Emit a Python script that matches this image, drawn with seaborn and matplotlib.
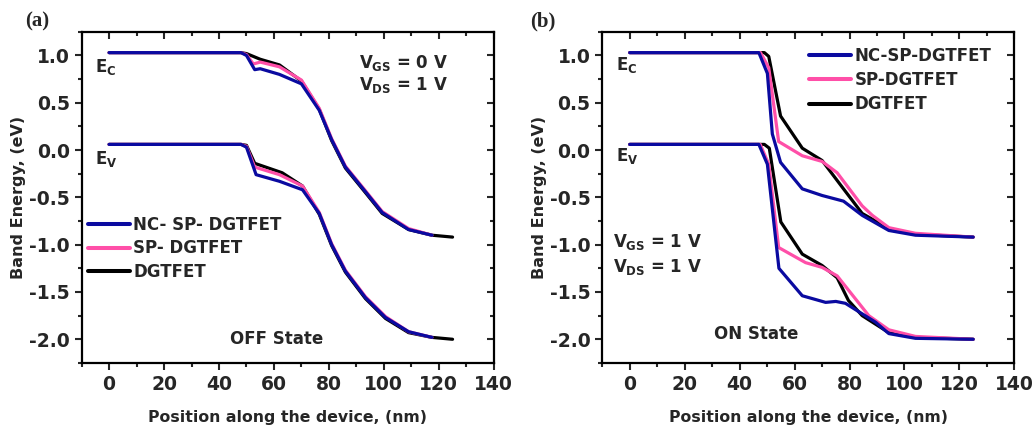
import numpy as np
import pandas as pd
import matplotlib
matplotlib.use("Agg")
import matplotlib.pyplot as plt
import seaborn as sns
from matplotlib.ticker import MultipleLocator, FormatStrFormatter

# ---------------- data ----------------
series_names_a = ["NC- SP- DGTFET", "SP- DGTFET", "DGTFET"]
series_names_b = ["NC-SP-DGTFET", "SP-DGTFET", "DGTFET"]
colors = ["#0a0aa0", "#ff4fa8", "#000000"]

# Panel (a) OFF state
a_nc_x_ec = [0, 48, 50, 53, 55, 62, 70, 76.5, 81, 86, 93.3, 99.4, 109, 117.5]
a_nc_ec = [1.03, 1.03, 1.00, 0.85, 0.86, 0.80, 0.70, 0.42, 0.11, -0.18, -0.44, -0.66, -0.84, -0.90]
a_sp_x_ec = [0, 48, 50, 52.5, 55, 62, 70, 76.5, 81, 86, 93.3, 99.4, 109, 117.5]
a_sp_ec = [1.03, 1.03, 1.01, 0.91, 0.93, 0.88, 0.74, 0.44, 0.12, -0.17, -0.43, -0.65, -0.83, -0.90]
a_dg_x_ec = [0, 48, 50, 55, 62, 70, 76.5, 81, 86, 93.3, 99.4, 109, 117.5, 125]
a_dg_ec = [1.03, 1.03, 1.02, 0.96, 0.90, 0.73, 0.43, 0.10, -0.19, -0.45, -0.67, -0.84, -0.90, -0.92]

a_nc_x_ev = [0, 48, 50, 53.5, 62, 70.4, 76.5, 81, 86, 93.3, 100.6, 109, 117.5]
a_nc_ev = [0.06, 0.06, 0.03, -0.26, -0.33, -0.42, -0.67, -1.00, -1.28, -1.56, -1.77, -1.92, -1.98]
a_sp_x_ev = [0, 48, 50, 53, 62, 70.4, 76.5, 81, 86, 93.3, 100.6, 109, 117.5]
a_sp_ev = [0.06, 0.06, 0.04, -0.18, -0.26, -0.38, -0.66, -0.99, -1.27, -1.55, -1.76, -1.92, -1.98]
a_dg_x_ev = [0, 48, 50, 53, 63, 70.4, 76.5, 81, 86, 93.3, 100.6, 109, 117.5, 125]
a_dg_ev = [0.06, 0.06, 0.05, -0.14, -0.24, -0.38, -0.68, -1.01, -1.29, -1.57, -1.78, -1.93, -1.98, -2.00]

# Panel (b) ON state
b_nc_x_ec = [0, 47, 50.1, 51.9, 54.9, 62.8, 70, 77.8, 84.6, 94.3, 104, 125]
b_nc_ec = [1.03, 1.03, 0.81, 0.17, -0.13, -0.41, -0.48, -0.54, -0.69, -0.85, -0.90, -0.92]
b_sp_x_ec = [0, 47.6, 50.6, 54.2, 62.8, 70, 75.5, 84.6, 88.3, 94.3, 104, 125]
b_sp_ec = [1.03, 1.03, 0.87, 0.09, -0.06, -0.12, -0.24, -0.59, -0.69, -0.82, -0.88, -0.92]
b_dg_x_ec = [0, 49, 50.6, 54.9, 62.8, 70, 77.8, 84.6, 94.3, 104, 125]
b_dg_ec = [1.03, 1.03, 0.99, 0.36, 0.02, -0.11, -0.41, -0.67, -0.83, -0.89, -0.92]

b_nc_x_ev = [0, 47, 50.1, 54.3, 62.8, 71.3, 75, 78.5, 89.5, 94.3, 104, 125]
b_nc_ev = [0.06, 0.06, -0.15, -1.25, -1.54, -1.61, -1.60, -1.62, -1.82, -1.94, -1.99, -2.00]
b_sp_x_ev = [0, 47.5, 50.6, 54.2, 64, 70, 75.5, 87, 94.3, 104, 125]
b_sp_ev = [0.06, 0.06, -0.15, -1.03, -1.19, -1.24, -1.33, -1.75, -1.90, -1.97, -2.00]
b_dg_x_ev = [0, 49, 50.8, 55, 62.8, 70, 75.5, 79.6, 84.6, 94.3, 104, 125]
b_dg_ev = [0.06, 0.06, 0.02, -0.76, -1.10, -1.22, -1.35, -1.59, -1.75, -1.93, -1.98, -2.00]

# ---------------- style ----------------
sns.set_theme(style="ticks")
plt.rcParams["font.family"] = ["DejaVu Sans"]
plt.rcParams["font.weight"] = "bold"
plt.rcParams["axes.labelweight"] = "bold"
plt.rcParams["mathtext.fontset"] = "custom"
plt.rcParams["mathtext.rm"] = "DejaVu Sans:bold"
plt.rcParams["mathtext.it"] = "DejaVu Sans:bold"
plt.rcParams["mathtext.bf"] = "DejaVu Sans:bold"

fig = plt.figure(figsize=(10.33, 4.30), dpi=100)
ax_a = fig.add_axes([0.079, 0.156, 0.399, 0.770])
ax_b = fig.add_axes([0.583, 0.156, 0.399, 0.770])

LW = 2.3


def draw(ax, ec_list, ev_list, names):
    # draw black first, then pink, blue on top
    lines = {}
    for idx in [2, 1, 0]:
        xs, ys = ec_list[idx]
        df = pd.DataFrame({"x": xs, "y": ys})
        sns.lineplot(data=df, x="x", y="y", ax=ax, color=colors[idx], lw=LW,
                     sort=False, estimator=None, legend=False)
        lines[idx] = ax.lines[-1]
        xs, ys = ev_list[idx]
        df = pd.DataFrame({"x": xs, "y": ys})
        sns.lineplot(data=df, x="x", y="y", ax=ax, color=colors[idx], lw=LW,
                     sort=False, estimator=None, legend=False)
    return [lines[i] for i in [0, 1, 2]]


h_a = draw(ax_a,
           [(a_nc_x_ec, a_nc_ec), (a_sp_x_ec, a_sp_ec), (a_dg_x_ec, a_dg_ec)],
           [(a_nc_x_ev, a_nc_ev), (a_sp_x_ev, a_sp_ev), (a_dg_x_ev, a_dg_ev)],
           series_names_a)
h_b = draw(ax_b,
           [(b_nc_x_ec, b_nc_ec), (b_sp_x_ec, b_sp_ec), (b_dg_x_ec, b_dg_ec)],
           [(b_nc_x_ev, b_nc_ev), (b_sp_x_ev, b_sp_ev), (b_dg_x_ev, b_dg_ev)],
           series_names_b)

for ax in (ax_a, ax_b):
    ax.set_xlim(-10, 140)
    ax.set_ylim(-2.25, 1.25)
    ax.xaxis.set_major_locator(MultipleLocator(20))
    ax.xaxis.set_minor_locator(MultipleLocator(10))
    ax.yaxis.set_major_locator(MultipleLocator(0.5))
    ax.yaxis.set_minor_locator(MultipleLocator(0.25))
    ax.yaxis.set_major_formatter(FormatStrFormatter("%.1f"))
    ax.tick_params(which="both", direction="out", top=False, right=False,
                   labelsize=13.5, width=1.5)
    ax.tick_params(which="major", length=5)
    ax.tick_params(which="minor", length=3)
    for sp in ax.spines.values():
        sp.set_linewidth(1.6)
        sp.set_visible(True)
        sp.set_color("black")
    sec_x = ax.secondary_xaxis("top")
    sec_x.xaxis.set_major_locator(MultipleLocator(20))
    sec_x.xaxis.set_minor_locator(MultipleLocator(10))
    sec_x.tick_params(which="both", direction="in", labeltop=False, width=1.5)
    sec_x.tick_params(which="major", length=5)
    sec_x.tick_params(which="minor", length=3)
    sec_x.spines["top"].set_visible(False)
    sec_y = ax.secondary_yaxis("right")
    sec_y.yaxis.set_major_locator(MultipleLocator(0.5))
    sec_y.yaxis.set_minor_locator(MultipleLocator(0.25))
    sec_y.tick_params(which="both", direction="in", labelright=False, width=1.5)
    sec_y.tick_params(which="major", length=5)
    sec_y.tick_params(which="minor", length=3)
    sec_y.spines["right"].set_visible(False)
    for lab in ax.get_xticklabels() + ax.get_yticklabels():
        lab.set_fontweight("bold")
    ax.set_xlabel("Position along the device, (nm)", fontsize=11.3, fontweight="bold", labelpad=12)
    ax.set_ylabel("Band Energy, (eV)", fontsize=11.5, fontweight="bold", labelpad=2)

# legends
leg_kw = dict(frameon=False, fontsize=12, handlelength=2.5, handletextpad=0.2)
leg_a = ax_a.legend(h_a, series_names_a, loc="upper left",
                    bbox_to_anchor=(-0.02, 0.489), labelspacing=0.32, **leg_kw)
leg_b = ax_b.legend(h_b, series_names_b, loc="upper right",
                    bbox_to_anchor=(0.98, 1.0), labelspacing=0.38, **leg_kw)
for leg in (leg_a, leg_b):
    for t in leg.get_texts():
        t.set_fontweight("bold")
    for l in leg.get_lines():
        l.set_linewidth(LW + 0.6)

tfs = 12
# annotations panel a
ax_a.text(-5, 0.83, "$E_C$", fontsize=tfs)
ax_a.text(-5, -0.15, "$E_V$", fontsize=tfs)
ax_a.text(91, 0.87, "$V_{GS}$ = 0 V", fontsize=tfs)
ax_a.text(91, 0.63, "$V_{DS}$ = 1 V", fontsize=tfs)
ax_a.text(61, -2.0, "OFF State", fontsize=tfs, fontweight="bold", ha="center", va="center")
# annotations panel b
ax_b.text(-5, 0.85, "$E_C$", fontsize=tfs)
ax_b.text(-5, -0.12, "$E_V$", fontsize=tfs)
ax_b.text(-6, -1.02, "$V_{GS}$ = 1 V", fontsize=tfs)
ax_b.text(-6, -1.29, "$V_{DS}$ = 1 V", fontsize=tfs)
ax_b.text(46, -1.94, "ON State", fontsize=tfs, fontweight="bold", ha="center", va="center")

fig.text(0.024, 0.938, "(a)", fontsize=15, fontweight="bold", family="Liberation Serif")
fig.text(0.513, 0.938, "(b)", fontsize=15, fontweight="bold", family="Liberation Serif")

fig.savefig("out.png", dpi=100)
